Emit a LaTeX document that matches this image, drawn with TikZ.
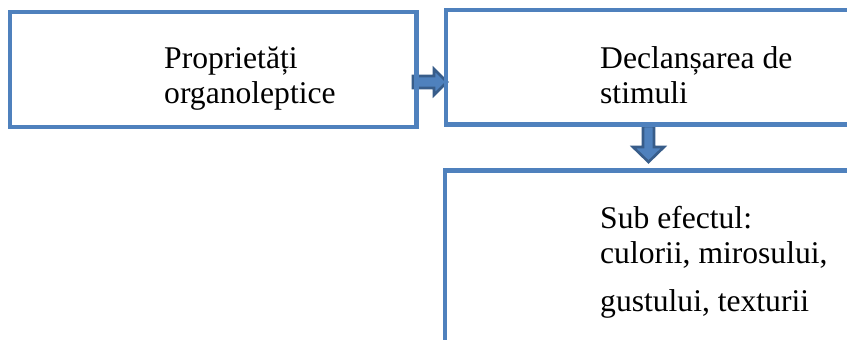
\documentclass[tikz,border=0pt]{standalone}
\usepackage{fontspec}
\setmainfont{Liberation Serif}
\usetikzlibrary{calc}
\definecolor{boxblue}{HTML}{4F81BD}
\definecolor{arrowedge}{HTML}{385D8A}
\tikzset{
  flowbox/.style={draw=boxblue, line width=4.5pt, rectangle, fill=none, inner sep=0pt},
  boxtext/.style={anchor=base west, inner sep=0pt, text=black,
    font=\fontsize{31.6}{36}\selectfont},
  blockarrow/.style={fill=boxblue, draw=arrowedge, line width=2.6pt, line join=miter}
}
\begin{document}
\begin{tikzpicture}[x=1pt, y=-1pt]
  \useasboundingbox (0,0) rectangle (847,340);
  \clip (0,0) rectangle (847,340);
  \fill[white] (0,0) rectangle (847,340);

  % arrow ends
  \coordinate (a1s) at (413,82);
  \coordinate (a1e) at (447,82);
  \coordinate (a2s) at (648.5,126);
  \coordinate (a2e) at (648.5,162);

  % block arrows between the boxes
  \draw[blockarrow] ($(a1s)+(0,-6)$) -- ($(a1e)+(-13,-6)$) -- ($(a1e)+(-13,-13)$)
    -- (a1e) -- ($(a1e)+(-13,13)$) -- ($(a1e)+(-13,6)$) -- ($(a1s)+(0,6)$) -- cycle;
  \draw[blockarrow] ($(a2s)+(-5.5,0)$) -- ($(a2e)+(-5.5,-15)$) -- ($(a2e)+(-15.5,-15)$)
    -- (a2e) -- ($(a2e)+(15.5,-15)$) -- ($(a2e)+(5.5,-15)$) -- ($(a2s)+(5.5,0)$) -- cycle;

  % boxes
  \node[flowbox, minimum width=406.5pt, minimum height=115pt] (b1) at (213.25,69.5) {};
  \node[flowbox, minimum width=454pt, minimum height=114.5pt] (b2) at (673,67.25) {};
  \node[flowbox, minimum width=455pt, minimum height=229.5pt] (b3) at (672.5,285.25) {};

  % texts
  \node[boxtext] (t1a) at (164,68.5) {Proprietăți};
  \node[boxtext] (t1b) at (164,103.3) {organoleptice};
  \node[boxtext] (t2a) at (600,68) {Declanșarea de};
  \node[boxtext] (t2b) at (600,103) {stimuli};
  \node[boxtext] (t3a) at (600,228.3) {Sub efectul:};
  \node[boxtext] (t3b) at (600,263.3) {culorii, mirosului,};
  \node[boxtext] (t3c) at (600,311) {gustului, texturii};
\end{tikzpicture}
\end{document}
